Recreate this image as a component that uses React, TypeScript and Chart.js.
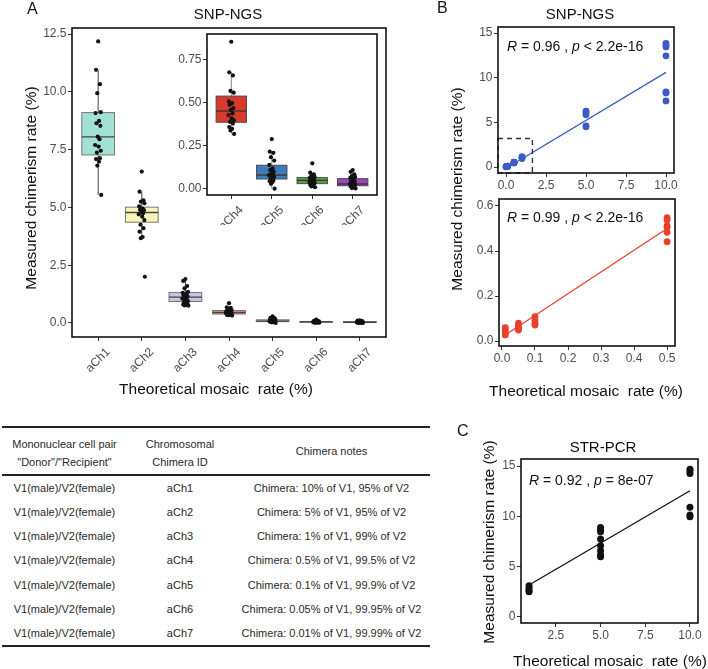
import React, { useEffect, useRef } from "react";
import { Chart, registerables } from "chart.js";

Chart.register(...registerables);

const FONT = "'Liberation Sans', Arial, Helvetica, sans-serif";
const TICK_COLOR = "#4d4d4d";

// ---------------- Panel A (box plots) ----------------
const CATEGORIES = ["aCh1", "aCh2", "aCh3", "aCh4", "aCh5", "aCh6", "aCh7"];
const ACH1 = [12.18, 10.95, 10.33, 9.94, 9.12, 9.08, 8.74, 8.64, 8.53, 8.06, 7.95, 7.7, 7.63, 7.45, 7.37, 7.13, 7.09, 6.98, 6.81, 5.54];
const ACH2 = [6.55, 5.68, 5.3, 5.25, 5.18, 5.05, 4.95, 4.9, 4.88, 4.8, 4.75, 4.7, 4.6, 4.45, 4.25, 4.1, 3.95, 3.72, 3.67, 2.0];
const ACH3 = [1.9, 1.82, 1.6, 1.5, 1.35, 1.3, 1.25, 1.2, 1.15, 1.12, 1.1, 1.05, 1.0, 0.95, 0.9, 0.85, 0.8, 0.78, 0.76, 0.75];
const ACH4 = [0.856, 0.678, 0.66, 0.57, 0.56, 0.51, 0.5, 0.49, 0.47, 0.46, 0.44, 0.43, 0.41, 0.4, 0.39, 0.38, 0.36, 0.35, 0.34, 0.32];
const ACH5 = [0.29, 0.217, 0.21, 0.185, 0.165, 0.14, 0.12, 0.11, 0.1, 0.09, 0.085, 0.08, 0.075, 0.07, 0.06, 0.05, 0.045, 0.04, 0.03, 0.002];
const ACH6 = [0.149, 0.095, 0.085, 0.075, 0.07, 0.065, 0.06, 0.055, 0.05, 0.05, 0.045, 0.04, 0.04, 0.035, 0.03, 0.03, 0.025, 0.02, 0.015, 0.01];
const ACH7 = [0.11, 0.1, 0.085, 0.075, 0.07, 0.065, 0.06, 0.05, 0.045, 0.04, 0.035, 0.03, 0.03, 0.025, 0.02, 0.02, 0.015, 0.01, 0.005, 0.003];
const A_VALUES = [ACH1, ACH2, ACH3, ACH4, ACH5, ACH6, ACH7];

// box statistics
const BOX_Q1 = [7.27, 4.36, 0.93, 0.388, 0.058, 0.031, 0.019];
const BOX_MEDIAN = [8.05, 4.78, 1.12, 0.453, 0.081, 0.05, 0.029];
const BOX_Q3 = [9.1, 5.01, 1.32, 0.54, 0.138, 0.066, 0.06];
const BOX_LOW = [5.54, 3.67, 0.75, 0.32, 0.002, 0.01, 0.003];
const BOX_HIGH = [10.95, 5.68, 1.9, 0.678, 0.217, 0.095, 0.11];

const A_YTICKS = [0, 2.5, 5, 7.5, 10, 12.5];
const INSET_FIRST = 3; // inset shows aCh4..aCh7
const INSET_YTICKS = [0, 0.25, 0.5, 0.75];

const A_FILLS = ["#a2e1d6", "#fbf4b8", "#c9c4e4", "#f59c8f", "#9cc2de", "#fcc27f", "#c4e38a"];
const INSET_FILLS = ["#d93a2b", "#3d7dbd", "#4cae3c", "#9a45c4"];
// horizontal jitter of the dots (category units)
const JITTER = [0.0, -0.05, 0.04, -0.02, 0.06, -0.06, 0.02, -0.04, 0.05, -0.01, 0.03, -0.07, 0.01, 0.06, -0.03, 0.04, -0.05, 0.02, -0.02, 0.07];

// ---------------- Panel B (SNP-NGS correlation) ----------------
const B_THEORETICAL = [10, 10, 10, 10, 10, 10, 10, 5, 5, 5, 5, 5, 1, 1, 1, 0.5, 0.5, 0.5, 0.5, 0.5, 0.5, 0.1, 0.1, 0.1, 0.1, 0.05, 0.05, 0.05, 0.05, 0.01, 0.01, 0.01, 0.01];
const B_MEASURED = [13.85, 13.6, 13.45, 12.45, 8.4, 8.3, 7.4, 6.25, 6.05, 5.85, 4.6, 4.5, 1.15, 1.05, 0.95, 0.548, 0.538, 0.511, 0.505, 0.483, 0.441, 0.108, 0.093, 0.079, 0.071, 0.079, 0.067, 0.056, 0.049, 0.059, 0.049, 0.037, 0.027];
const B_HIGH_FIT_X = [0.01, 10];
const B_HIGH_FIT_Y = [-0.14, 10.6];
const B_LOW_FIT_X = [0.01, 0.5];
const B_LOW_FIT_Y = [0.027, 0.5];
const B_ZOOM_X = [-0.5, 1.65];
const B_ZOOM_Y = [-0.67, 3.2];
const B_HIGH_XTICKS = [0, 2.5, 5, 7.5, 10];
const B_HIGH_YTICKS = [0, 5, 10, 15];
const B_LOW_XTICKS = [0, 0.1, 0.2, 0.3, 0.4, 0.5];
const B_LOW_YTICKS = [0, 0.2, 0.4, 0.6];

// ---------------- Panel C (STR-PCR correlation) ----------------
const C_THEORETICAL = [1, 1, 1, 1, 5, 5, 5, 5, 5, 5, 5, 5, 10, 10, 10, 10, 10, 10];
const C_MEASURED = [3.11, 2.85, 2.61, 2.51, 8.9, 8.64, 8.47, 7.75, 7.08, 6.59, 6.16, 5.99, 14.67, 14.5, 14.27, 10.9, 10.13, 9.96];
const C_FIT_X = [1, 10];
const C_FIT_Y = [3.18, 12.54];
const C_XTICKS = [2.5, 5, 7.5, 10];
const C_YTICKS = [0, 5, 10, 15];

// ---------------- Table ----------------
const TABLE_PAIRS = Array(7).fill("V1(male)/V2(female)");
const TABLE_NOTES = [
  "Chimera: 10% of V1, 95% of V2",
  "Chimera: 5% of V1, 95% of V2",
  "Chimera: 1% of V1, 99% of V2",
  "Chimera: 0.5% of V1, 99.5% of V2",
  "Chimera: 0.1% of V1, 99.9% of V2",
  "Chimera: 0.05% of V1, 99.95% of V2",
  "Chimera: 0.01% of V1, 99.99% of V2",
];

// ---------------- helpers ----------------
type Seg = { t: string; i?: boolean };
type TextItem = { segs: Seg[]; x: number; y: number; size: number; align?: "left" | "center"; rot?: number };

function textPlugin(items: TextItem[], ox: number, oy: number) {
  return {
    id: "overlayText",
    afterDraw(chart: any) {
      const ctx = chart.ctx;
      items.forEach((it) => {
        ctx.save();
        ctx.translate(it.x - ox, it.y - oy);
        if (it.rot) ctx.rotate((it.rot * Math.PI) / 180);
        ctx.textBaseline = "middle";
        ctx.textAlign = "left";
        ctx.fillStyle = "#111";
        const fontOf = (s: Seg) => `${s.i ? "italic " : ""}${it.size}px ${FONT}`;
        let total = 0;
        const widths = it.segs.map((s) => {
          ctx.font = fontOf(s);
          const w = ctx.measureText(s.t).width;
          total += w;
          return w;
        });
        let x = it.align === "left" ? 0 : -total / 2;
        it.segs.forEach((s, k) => {
          ctx.font = fontOf(s);
          ctx.fillText(s.t, x, 0);
          x += widths[k];
        });
        ctx.restore();
      });
    },
  };
}

const borderPlugin = {
  id: "panelBorder",
  afterDatasetsDraw(chart: any) {
    const { ctx, chartArea: a } = chart;
    ctx.save();
    ctx.strokeStyle = "#111";
    ctx.lineWidth = 1.6;
    ctx.strokeRect(a.left, a.top, a.right - a.left, a.bottom - a.top);
    ctx.restore();
  },
};

function boxPlugin(first: number, count: number, fills: string[], stroke: string, whisker: string, median: string) {
  return {
    id: "boxes",
    beforeDatasetsDraw(chart: any) {
      const { ctx, scales } = chart;
      const x = scales.x;
      const y = scales.y;
      ctx.save();
      for (let k = 0; k < count; k++) {
        const i = first + k;
        const c = k + 1;
        const xl = x.getPixelForValue(c - 0.375);
        const xr = x.getPixelForValue(c + 0.375);
        const xc = x.getPixelForValue(c);
        const yq1 = y.getPixelForValue(BOX_Q1[i]);
        const yq3 = y.getPixelForValue(BOX_Q3[i]);
        const ym = y.getPixelForValue(BOX_MEDIAN[i]);
        const ylo = y.getPixelForValue(BOX_LOW[i]);
        const yhi = y.getPixelForValue(BOX_HIGH[i]);
        ctx.strokeStyle = whisker;
        ctx.lineWidth = 1;
        ctx.beginPath();
        ctx.moveTo(xc, yq3);
        ctx.lineTo(xc, yhi);
        ctx.moveTo(xc, yq1);
        ctx.lineTo(xc, ylo);
        ctx.stroke();
        ctx.fillStyle = fills[k];
        ctx.fillRect(xl, yq3, xr - xl, yq1 - yq3);
        ctx.strokeStyle = stroke;
        ctx.lineWidth = 1;
        ctx.strokeRect(xl, yq3, xr - xl, yq1 - yq3);
        ctx.strokeStyle = median;
        ctx.lineWidth = 1.4;
        ctx.beginPath();
        ctx.moveTo(xl, ym);
        ctx.lineTo(xr, ym);
        ctx.stroke();
      }
      ctx.restore();
    },
  };
}

function dashedBoxPlugin(xs: number[], ys: number[]) {
  return {
    id: "dashedBox",
    afterDatasetsDraw(chart: any) {
      const { ctx, scales } = chart;
      const x0 = scales.x.getPixelForValue(xs[0]);
      const x1 = scales.x.getPixelForValue(xs[1]);
      const y0 = scales.y.getPixelForValue(ys[0]);
      const y1 = scales.y.getPixelForValue(ys[1]);
      ctx.save();
      ctx.setLineDash([5, 4]);
      ctx.strokeStyle = "#333";
      ctx.lineWidth = 1.4;
      ctx.strokeRect(x0, y1, x1 - x0, y0 - y1);
      ctx.restore();
    },
  };
}

type AxisSpec = { min: number; max: number; ticks: number[]; fmt: (v: number) => string; rot?: number; labelOffset?: number; pad?: number };

function makeScale(pos: "bottom" | "left", spec: AxisSpec, size: number) {
  return {
    type: "linear",
    position: pos,
    min: spec.min,
    max: spec.max,
    afterBuildTicks: (s: any) => {
      s.ticks = spec.ticks.map((v) => ({ value: v }));
    },
    afterFit: (s: any) => {
      if (pos === "left") s.width = size;
      else s.height = size;
    },
    grid: { display: true, drawOnChartArea: false, drawTicks: true, tickLength: 4, color: "#333", lineWidth: 1 },
    border: { display: false },
    ticks: {
      autoSkip: false,
      color: TICK_COLOR,
      font: { family: FONT, size: 12 },
      padding: spec.pad ?? 1.5,
      maxRotation: spec.rot ?? 0,
      minRotation: spec.rot ?? 0,
      labelOffset: spec.labelOffset ?? 0,
      callback: (v: any) => spec.fmt(Number(v)),
    },
  };
}

type Area = { l: number; t: number; r: number; b: number };

function buildConfig(W: number, H: number, area: Area, xs: AxisSpec, ys: AxisSpec, datasets: any[], plugins: any[]) {
  return {
    type: "scatter",
    data: { datasets },
    options: {
      responsive: false,
      animation: false,
      events: [],
      layout: { padding: { left: 0, top: area.t, right: W - area.r, bottom: 0 } },
      plugins: { legend: { display: false }, tooltip: { enabled: false }, title: { display: false } },
      scales: { x: makeScale("bottom", xs, H - area.b), y: makeScale("left", ys, area.l) },
    },
    plugins,
  } as any;
}

function ChartCanvas({ left, top, width, height, make }: { left: number; top: number; width: number; height: number; make: () => any }) {
  const ref = useRef<HTMLCanvasElement>(null);
  useEffect(() => {
    const chart = new Chart(ref.current as HTMLCanvasElement, make());
    return () => chart.destroy();
  }, []);
  return <canvas ref={ref} width={width} height={height} style={{ position: "absolute", left, top, width, height }} />;
}

const fixed1 = (v: number) => v.toFixed(1);
const fixed2 = (v: number) => v.toFixed(2);
const plain = (v: number) => String(v);

function jitterPoints(groups: number[][]) {
  const pts: { x: number; y: number }[] = [];
  groups.forEach((vals, i) => vals.forEach((v, j) => pts.push({ x: i + 1 + JITTER[j % JITTER.length], y: v })));
  return pts;
}

function pairs(xs: number[], ys: number[]) {
  return xs.map((x, i) => ({ x, y: ys[i] }));
}

function scatterSet(points: any[], color: string, r: number) {
  return { data: points, backgroundColor: color, borderColor: color, borderWidth: 0, pointRadius: r, showLine: false };
}

function lineSet(points: any[], color: string) {
  return { data: points, borderColor: color, backgroundColor: color, borderWidth: 1.3, pointRadius: 0, showLine: true, fill: false };
}

// ---------------- chart makers ----------------
const makeA = () =>
  buildConfig(
    400, 405, { l: 72, t: 28, r: 386, b: 337 },
    { min: 0.4, max: 7.6, ticks: CATEGORIES.map((_, i) => i + 1), fmt: (v) => CATEGORIES[Math.round(v) - 1], rot: 45, labelOffset: 10, pad: 4 },
    { min: -0.606, max: 12.76, ticks: A_YTICKS, fmt: fixed1 },
    [scatterSet(jitterPoints(A_VALUES), "#111", 2.1)],
    [
      boxPlugin(0, 7, A_FILLS, "#777", "#444", "#444"),
      borderPlugin,
      textPlugin(
        [
          { segs: [{ t: "SNP-NGS" }], x: 228, y: 15, size: 15 },
          { segs: [{ t: "Theoretical mosaic  rate (%)" }], x: 216, y: 390, size: 15.5 },
          { segs: [{ t: "Measured chimerism rate (%)" }], x: 32, y: 188, size: 15.5, rot: -90 },
        ],
        0, 0
      ),
    ]
  );

const INSET_CATS = CATEGORIES.slice(INSET_FIRST);
const makeInset = () =>
  buildConfig(
    240, 200, { l: 57, t: 9, r: 227, b: 170 },
    { min: 0.4, max: 4.6, ticks: INSET_CATS.map((_, i) => i + 1), fmt: (v) => INSET_CATS[Math.round(v) - 1], rot: 45, labelOffset: 10, pad: 4 },
    { min: -0.035, max: 0.901, ticks: INSET_YTICKS, fmt: fixed2 },
    [scatterSet(jitterPoints(A_VALUES.slice(INSET_FIRST)), "#111", 2.1)],
    [boxPlugin(INSET_FIRST, 4, INSET_FILLS, "#4a4a4a", "#8a8a8a", "#4a3030"), borderPlugin]
  );

const BLUE = "#3b5cc4";
const RED = "#e8412c";

const makeBHigh = () =>
  buildConfig(
    268, 200, { l: 58, t: 27, r: 234, b: 173 },
    { min: -0.5, max: 10.5, ticks: B_HIGH_XTICKS, fmt: fixed1, pad: 1 },
    { min: -0.67, max: 15.68, ticks: B_HIGH_YTICKS, fmt: plain },
    [scatterSet(pairs(B_THEORETICAL, B_MEASURED), BLUE, 3.4), lineSet(pairs(B_HIGH_FIT_X, B_HIGH_FIT_Y), BLUE)],
    [
      dashedBoxPlugin(B_ZOOM_X, B_ZOOM_Y),
      borderPlugin,
      textPlugin(
        [
          { segs: [{ t: "SNP-NGS" }], x: 580, y: 15, size: 15 },
          { segs: [{ t: "R", i: true }, { t: " = 0.96 , " }, { t: "p", i: true }, { t: " < 2.2e-16" }], x: 507, y: 47.5, size: 14, align: "left" },
        ],
        440, 0
      ),
    ]
  );

const makeBLow = () => {
  const lowX = B_THEORETICAL.filter((x) => x <= 0.5);
  const lowY = B_MEASURED.filter((_, i) => B_THEORETICAL[i] <= 0.5);
  return buildConfig(
    268, 215, { l: 59, t: 9, r: 235, b: 156 },
    { min: -0.009, max: 0.524, ticks: B_LOW_XTICKS, fmt: fixed1, pad: 1 },
    { min: -0.022, max: 0.631, ticks: B_LOW_YTICKS, fmt: fixed1 },
    [scatterSet(pairs(lowX, lowY), RED, 3.4), lineSet(pairs(B_LOW_FIT_X, B_LOW_FIT_Y), RED)],
    [
      borderPlugin,
      textPlugin(
        [
          { segs: [{ t: "R", i: true }, { t: " = 0.99 , " }, { t: "p", i: true }, { t: " < 2.2e-16" }], x: 507, y: 218, size: 14, align: "left" },
          { segs: [{ t: "Theoretical mosaic  rate (%)" }], x: 586, y: 392, size: 15.5 },
        ],
        440, 190
      ),
    ]
  );
};

const makeC = () =>
  buildConfig(
    268, 244, { l: 81, t: 34, r: 258, b: 198 },
    { min: 0.55, max: 10.45, ticks: C_XTICKS, fmt: fixed1, pad: 1 },
    { min: -0.6, max: 15.7, ticks: C_YTICKS, fmt: plain },
    [scatterSet(pairs(C_THEORETICAL, C_MEASURED), "#111", 3.5), lineSet(pairs(C_FIT_X, C_FIT_Y), "#111")],
    [
      borderPlugin,
      textPlugin(
        [
          { segs: [{ t: "STR-PCR" }], x: 603, y: 448, size: 15 },
          { segs: [{ t: "R", i: true }, { t: " = 0.92 , " }, { t: "p", i: true }, { t: " = 8e-07" }], x: 529, y: 481, size: 14, align: "left" },
          { segs: [{ t: "Theoretical mosaic  rate (%)" }], x: 610, y: 662, size: 15.5 },
          { segs: [{ t: "Measured chimerism rate (%)" }], x: 490, y: 542, size: 15.5, rot: -90 },
        ],
        440, 425
      ),
    ]
  );

const letterStyle = (left: number, top: number): React.CSSProperties => ({
  position: "absolute",
  left,
  top,
  fontSize: 16,
  lineHeight: "16px",
  fontFamily: FONT,
  color: "#111",
});

const cell: React.CSSProperties = { textAlign: "center", padding: 0, fontWeight: "normal", verticalAlign: "middle" };

export default function App() {
  return (
    <div style={{ position: "absolute", left: 0, top: 0, width: 708, height: 669, background: "#fff", overflow: "hidden", fontFamily: FONT }}>
      <ChartCanvas left={0} top={0} width={400} height={405} make={makeA} />
      <ChartCanvas left={150} top={25} width={240} height={200} make={makeInset} />
      <ChartCanvas left={440} top={190} width={268} height={215} make={makeBLow} />
      <ChartCanvas left={440} top={0} width={268} height={200} make={makeBHigh} />
      <ChartCanvas left={440} top={425} width={268} height={244} make={makeC} />

      <div style={letterStyle(27, 1)}>A</div>
      <div style={letterStyle(437, 0)}>B</div>
      <div style={letterStyle(457, 423)}>C</div>

      <div
        style={{
          position: "absolute",
          left: 457,
          top: 189,
          transform: "translate(-50%, -50%) rotate(-90deg)",
          whiteSpace: "nowrap",
          fontSize: 15.5,
          lineHeight: "18px",
          color: "#111",
        }}
      >
        Measured chimerism rate (%)
      </div>

      <table
        style={{
          position: "absolute",
          left: 2,
          top: 426,
          width: 428,
          borderCollapse: "collapse",
          tableLayout: "fixed",
          fontFamily: FONT,
          fontSize: 11,
          color: "#2a2a2a",
          borderTop: "2px solid #222",
          borderBottom: "2px solid #222",
        }}
      >
        <colgroup>
          <col style={{ width: 125 }} />
          <col style={{ width: 106 }} />
          <col style={{ width: 197 }} />
        </colgroup>
        <thead>
          <tr style={{ height: 48 }}>
            <th style={{ ...cell, borderBottom: "2px solid #222", lineHeight: "18px", paddingTop: 3 }}>
              Mononuclear cell pair
              <br />
              "Donor"/"Recipient"
            </th>
            <th style={{ ...cell, borderBottom: "2px solid #222", lineHeight: "18px", paddingTop: 3 }}>
              Chromosomal
              <br />
              Chimera ID
            </th>
            <th style={{ ...cell, borderBottom: "2px solid #222", lineHeight: "18px" }}>Chimera notes</th>
          </tr>
        </thead>
        <tbody>
          {CATEGORIES.map((id, i) => (
            <tr key={id} style={{ height: 24.4 }}>
              <td style={cell}>{TABLE_PAIRS[i]}</td>
              <td style={cell}>{id}</td>
              <td style={cell}>{TABLE_NOTES[i]}</td>
            </tr>
          ))}
        </tbody>
      </table>
    </div>
  );
}
